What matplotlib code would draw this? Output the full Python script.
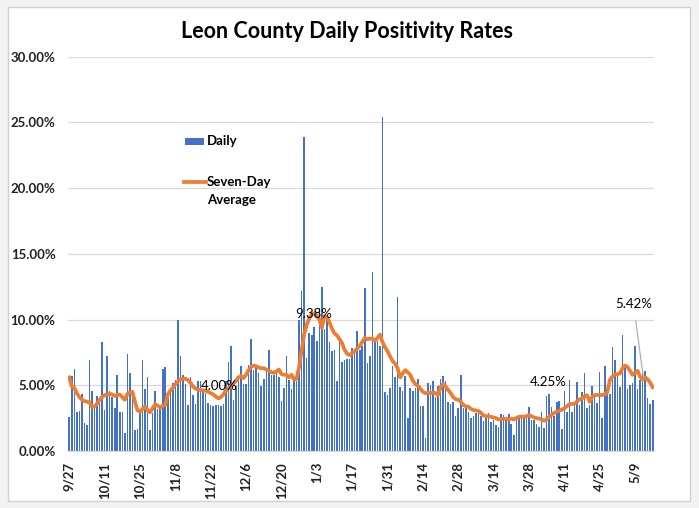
import numpy as np
import matplotlib
matplotlib.use('Agg')
import matplotlib.pyplot as plt
from matplotlib.patches import Rectangle
from matplotlib.lines import Line2D

# one bar per day, 9/27 .. 5/16
tick_labels = ['9/27', '10/11', '10/25', '11/8', '11/22', '12/6', '12/20', '1/3', '1/17',
               '1/31', '2/14', '2/28', '3/14', '3/28', '4/11', '4/25', '5/9']

daily = [
    2.6, 5.7, 6.25, 3.0, 3.05, 4.3, 2.1, 2.0, 6.9, 4.6,
    3.3, 4.2, 4.0, 8.3, 3.1, 7.2, 4.6, 4.1, 3.3, 5.8,
    3.0, 3.0, 1.4, 7.4, 5.9, 4.5, 1.6, 1.65, 3.1, 6.9,
    4.7, 5.6, 1.6, 2.9, 4.6, 3.2, 3.2, 6.25, 6.4, 4.1,
    4.6, 5.15, 5.4, 10.0, 7.25, 5.8, 5.1, 3.5, 5.6, 4.26,
    3.57, 5.3, 5.3, 4.6, 4.4, 3.65, 3.5, 3.45, 3.5, 3.5,
    3.45, 3.6, 5.3, 6.8, 8.0, 3.9, 4.95, 5.7, 6.5, 5.1,
    5.1, 6.55, 8.5, 6.2, 6.4, 5.9, 4.95, 5.5, 6.1, 7.7,
    5.8, 5.8, 6.0, 5.6, 3.8, 4.8, 7.25, 5.4, 4.7, 5.4,
    5.3, 9.95, 12.2, 23.9, 7.1, 9.0, 8.8, 9.4, 8.4, 10.9,
    12.5, 9.3, 10.2, 8.3, 7.6, 7.7, 5.3, 8.35, 6.8, 6.9,
    7.0, 7.0, 7.8, 7.65, 9.15, 7.7, 8.0, 12.4, 6.7, 7.2,
    13.6, 8.5, 8.4, 8.0, 25.4, 4.5, 4.26, 4.8, 6.5, 5.6,
    11.7, 4.9, 4.6, 5.7, 2.5, 4.8, 4.6, 4.8, 5.5, 3.4,
    3.4, 1.0, 5.2, 5.0, 5.3, 4.1, 4.95, 5.5, 5.7, 5.3,
    3.7, 3.57, 3.7, 2.7, 3.27, 5.8, 3.27, 3.27, 2.96, 2.5,
    2.65, 2.9, 2.86, 2.65, 2.27, 2.65, 2.9, 2.2, 2.35, 1.96,
    1.8, 2.8, 2.73, 2.35, 2.8, 2.04, 1.2, 2.35, 2.73, 2.55,
    2.65, 2.5, 3.37, 2.35, 2.35, 2.04, 1.8, 3.0, 1.73, 4.2,
    4.34, 3.37, 2.65, 3.7, 3.8, 1.65, 4.57, 3.0, 5.4, 3.0,
    3.57, 5.25, 3.5, 4.5, 5.9, 3.27, 3.5, 4.95, 4.34, 3.65,
    6.0, 2.5, 6.5, 4.7, 4.3, 7.9, 6.9, 5.7, 4.9, 8.8,
    6.5, 4.7, 5.0, 5.2, 8.0, 4.75, 5.4, 5.9, 6.1, 4.0,
    3.57, 3.9,
]

seven_day = [
    5.6, 4.9, 4.8, 4.4, 4.1, 3.9, 3.8, 3.75, 3.7, 3.35,
    3.4, 3.6, 3.9, 4.1, 4.25, 4.3, 4.35, 4.3, 4.2, 4.25,
    4.3, 4.1, 3.9, 4.35, 4.45, 4.5, 3.75, 3.1, 3.0, 3.2,
    3.4, 3.1, 2.95, 3.25, 3.55, 3.45, 3.3, 3.45, 3.5, 4.3,
    4.6, 4.8, 5.1, 5.3, 5.45, 5.5, 5.5, 5.4, 5.2, 4.9,
    4.75, 4.65, 4.65, 4.6, 4.6, 4.5, 4.4, 4.3, 4.15, 4.0,
    4.1, 4.3, 4.6, 4.75, 4.9, 5.1, 5.35, 5.6, 5.7, 5.55,
    5.8, 6.15, 6.4, 6.5, 6.45, 6.35, 6.3, 6.3, 6.2, 6.1,
    6.0, 5.95, 6.05, 6.2, 5.85, 5.8, 5.8, 5.6, 5.8, 5.45,
    5.5, 6.4, 7.7, 8.9, 9.6, 10.1, 10.4, 10.5, 10.3, 10.0,
    9.38, 10.25, 10.2, 9.8, 9.3, 8.95, 8.8, 8.5, 8.2, 7.7,
    7.4, 7.3, 7.45, 7.6, 7.8, 8.0, 8.3, 8.6, 8.5, 8.55,
    8.55, 8.4, 8.6, 8.85, 8.3, 7.9, 7.6, 7.2, 6.85, 6.65,
    6.3, 5.6, 5.9, 6.15, 6.0, 5.8, 5.35, 5.1, 4.95, 4.75,
    4.5, 4.4, 4.4, 4.4, 4.45, 4.4, 4.26, 4.85, 5.1, 4.9,
    4.65, 4.4, 4.1, 3.95, 3.9, 3.75, 3.5, 3.4, 3.37, 3.2,
    3.12, 3.08, 3.05, 2.9, 2.7, 2.65, 2.65, 2.6, 2.55, 2.5,
    2.4, 2.4, 2.45, 2.45, 2.4, 2.47, 2.4, 2.5, 2.6, 2.62,
    2.6, 2.65, 2.73, 2.65, 2.55, 2.5, 2.47, 2.4, 2.3, 2.4,
    2.6, 2.75, 2.9, 3.0, 3.06, 3.15, 3.24, 3.4, 3.57, 3.58,
    3.6, 3.75, 3.93, 4.0, 4.15, 4.25, 3.75, 4.1, 4.26, 4.26,
    4.26, 4.26, 4.3, 4.45, 5.4, 5.65, 5.8, 5.85, 5.9, 6.3,
    6.5, 6.4, 6.1, 5.8, 5.95, 6.1, 5.65, 5.42, 5.6, 5.45,
    5.2, 4.85,
]

point_labels = ['4.00%', '9.38%', '4.25%', '5.42%']

plt.rcParams['font.family'] = ['Lato', 'DejaVu Sans']

fig = plt.figure(figsize=(6.99, 5.08), dpi=100, facecolor='#F2F2F2')
# chart area frame, kept behind the axes
frame = Rectangle((0.0114, 0.0138), 0.9757, 0.9724, transform=fig.transFigure,
                  facecolor='white', edgecolor='#D0D0D0', linewidth=1.0, zorder=-10)
fig.patches.append(frame)

ax = fig.add_axes([0.0973, 0.1122, 0.8383, 0.7762], zorder=5)
ax.set_facecolor('none')

days = np.arange(len(daily))
ax.bar(days, daily, width=0.62, color='#4472C4', zorder=2)
ax.plot(days, seven_day, color='#ED7D31', linewidth=2.7, solid_joinstyle='round', zorder=3)

ax.set_xlim(-0.5, len(daily) - 0.5)
ax.set_ylim(0, 30)
ax.set_yticks(np.arange(0, 31, 5))
ax.set_yticklabels(['%.2f%%' % v for v in np.arange(0, 31, 5)])
ax.set_xticks(days[::14][:len(tick_labels)])
ax.set_xticklabels(tick_labels, rotation=90)
ax.tick_params(axis='both', length=0, labelsize=9.5, labelcolor='#222222')
ax.tick_params(axis='y', pad=9)
ax.tick_params(axis='x', pad=8)
for lab in ax.get_xticklabels() + ax.get_yticklabels():
    lab.set_fontweight('bold')

ax.grid(axis='y', color='#D9D9D9', linewidth=0.9, zorder=0)
ax.set_axisbelow(True)
for side in ['top', 'right', 'left']:
    ax.spines[side].set_visible(False)
ax.spines['bottom'].set_color('#D9D9D9')

fig.text(0.497, 0.938, 'Leon County Daily Positivity Rates', ha='center', va='center',
         fontsize=15.5, fontweight='bold', color='black')

# legend drawn inside plot area
ax.add_patch(Rectangle((0.2, 0.776), 0.032, 0.018, transform=ax.transAxes,
                       facecolor='#4472C4', edgecolor='none', zorder=4))
ax.text(0.237, 0.785, 'Daily', transform=ax.transAxes, ha='left', va='center',
        fontsize=9.5, fontweight='bold')
ax.add_line(Line2D([0.198, 0.235], [0.683, 0.683], transform=ax.transAxes,
                   color='#ED7D31', linewidth=2.7, zorder=4))
ax.text(0.237, 0.683, 'Seven-Day', transform=ax.transAxes, ha='left', va='center',
        fontsize=9.5, fontweight='bold')
ax.text(0.237, 0.637, 'Average', transform=ax.transAxes, ha='left', va='center',
        fontsize=9.5, fontweight='bold')

# data labels
ax.text(59.5, 4.98, point_labels[0], ha='center', va='center', fontsize=9.5, zorder=5)
ax.text(96.8, 10.39, point_labels[1], ha='center', va='center', fontsize=9.5, zorder=5)
ax.text(189.5, 5.24, point_labels[2], ha='center', va='center', fontsize=9.5, zorder=5)
ax.annotate(point_labels[3], xy=(227.4, seven_day[227]), xytext=(223.4, 11.18),
            ha='center', va='center', fontsize=9.5, zorder=5,
            arrowprops=dict(arrowstyle='-', color='#A6A6A6', linewidth=0.8,
                            shrinkA=6, shrinkB=0))

fig.savefig('out.png', dpi=100, facecolor=fig.get_facecolor())
